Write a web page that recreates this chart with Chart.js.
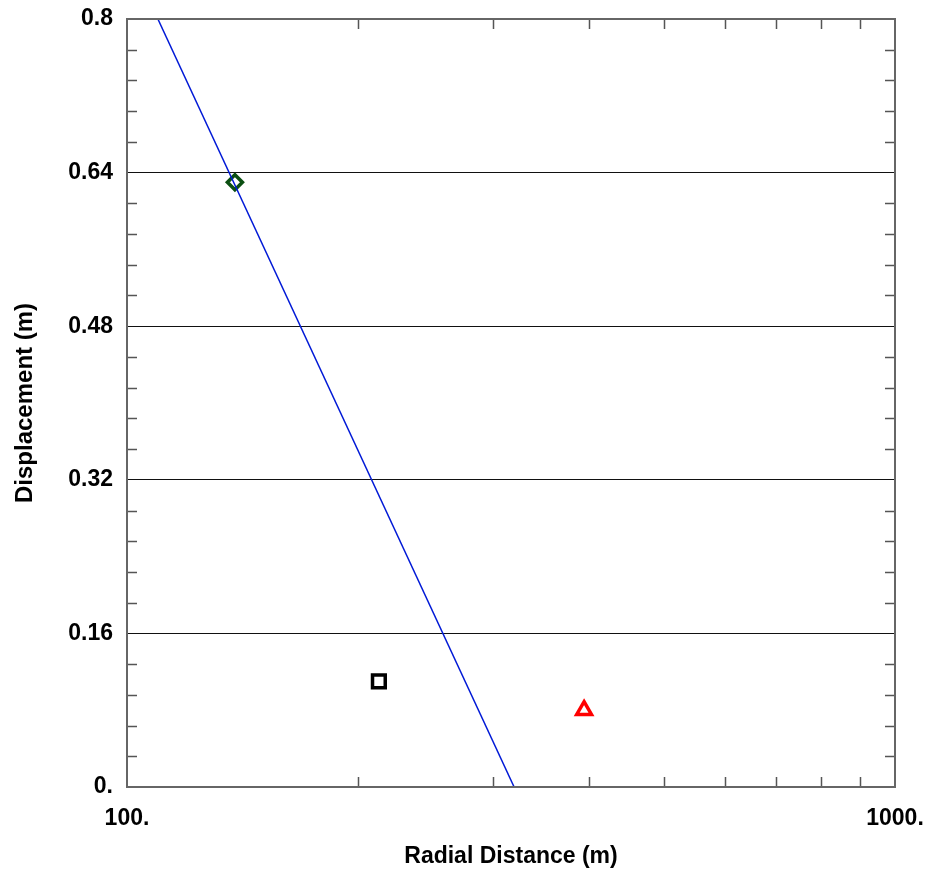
<!DOCTYPE html>
<html>
<head>
<meta charset="utf-8">
<script src="https://cdn.jsdelivr.net/npm/chart.js@4"></script>
<style>
  html, body { margin: 0; padding: 0; background: #fff; }
  #wrap { width: 929px; height: 870px; }
</style>
</head>
<body>
<div id="wrap"><canvas id="dispChart" width="929" height="870"></canvas></div>
<script>
// data
const lineX = [109.7, 319.2];
const lineY = [0.8, 0.0];
const diamondPt = [{ x: 138.2, y: 0.63 }];
const squarePt = [{ x: 212.8, y: 0.11 }];
const trianglePt = [{ x: 393.7, y: 0.08 }];

// ticks
const xTickValues = [100, 1000];
const xTickLabels = ['100.', '1000.'];
const xMinorTicks = [200, 300, 400, 500, 600, 700, 800, 900];
const yTickValues = [0, 0.16, 0.32, 0.48, 0.64, 0.8];
const yTickLabels = ['0.', '0.16', '0.32', '0.48', '0.64', '0.8'];
const yMinorTicks = [0.032, 0.064, 0.096, 0.128, 0.192, 0.224, 0.256, 0.288,
    0.352, 0.384, 0.416, 0.448, 0.512, 0.544, 0.576, 0.608,
    0.672, 0.704, 0.736, 0.768];

const FONT = 'Liberation Sans, Arial, Helvetica, sans-serif';

// inward minor ticks + frame
const frameTicks = {
    id: 'frameTicks',
    afterDatasetsDraw(chart) {
        const { ctx, chartArea: a, scales } = chart;
        const len = 10;
        ctx.save();
        ctx.strokeStyle = '#555';
        ctx.lineWidth = 1.5;
        ctx.beginPath();
        xMinorTicks.forEach(v => {
            const px = Math.round(scales.x.getPixelForValue(v)) + 0.5;
            ctx.moveTo(px, a.bottom); ctx.lineTo(px, a.bottom - len);
            ctx.moveTo(px, a.top); ctx.lineTo(px, a.top + len);
        });
        yMinorTicks.forEach(v => {
            const py = Math.round(scales.y.getPixelForValue(v)) + 0.5;
            ctx.moveTo(a.left, py); ctx.lineTo(a.left + len, py);
            ctx.moveTo(a.right, py); ctx.lineTo(a.right - len, py);
        });
        ctx.stroke();
        ctx.lineWidth = 2;
        ctx.strokeStyle = '#666';
        ctx.strokeRect(a.left, a.top, a.right - a.left, a.bottom - a.top);
        ctx.restore();
    }
};

const ctx = document.getElementById('dispChart');
new Chart(ctx, {
    type: 'scatter',
    data: {
        datasets: [
            {
                label: 'fit',
                type: 'line',
                data: lineX.map((x, i) => ({ x: x, y: lineY[i] })),
                borderColor: '#0019d6',
                borderWidth: 1.5,
                pointRadius: 0,
                fill: false,
                tension: 0
            },
            {
                label: 'diamond',
                data: diamondPt,
                pointStyle: 'rectRot',
                pointRadius: 7.5,
                pointBorderWidth: 3.5,
                borderColor: '#0b4f12',
                backgroundColor: 'rgba(0,0,0,0)'
            },
            {
                label: 'square',
                data: squarePt,
                pointStyle: 'rect',
                pointRadius: 9,
                pointBorderWidth: 3.5,
                borderColor: '#000',
                backgroundColor: 'rgba(0,0,0,0)'
            },
            {
                label: 'triangle',
                data: trianglePt,
                pointStyle: 'triangle',
                pointRadius: 8.5,
                pointBorderWidth: 3.5,
                borderColor: '#ff0000',
                backgroundColor: 'rgba(0,0,0,0)'
            }
        ]
    },
    options: {
        responsive: false,
        animation: false,
        layout: { padding: { left: 0, right: 34, top: 19, bottom: 0 } },
        plugins: {
            legend: { display: false },
            tooltip: { enabled: false }
        },
        scales: {
            x: {
                type: 'logarithmic',
                min: 100,
                max: 1000,
                afterBuildTicks: s => { s.ticks = xTickValues.map(v => ({ value: v })); },
                afterFit: s => { s.height = 83; s.paddingLeft = 0; s.paddingRight = 0; },
                grid: { display: false, drawTicks: false },
                border: { display: false },
                ticks: {
                    color: '#000',
                    padding: 18,
                    maxRotation: 0,
                    font: { family: FONT, size: 23, weight: 'bold' },
                    callback: (v) => xTickLabels[xTickValues.indexOf(v)]
                },
                title: {
                    display: true,
                    text: 'Radial Distance (m)',
                    color: '#000',
                    padding: { top: 0, bottom: 0 },
                    font: { family: FONT, size: 23, weight: 'bold' }
                }
            },
            y: {
                type: 'linear',
                min: 0,
                max: 0.8,
                afterBuildTicks: s => { s.ticks = yTickValues.map(v => ({ value: v })); },
                afterFit: s => { s.width = 127; s.paddingTop = 0; s.paddingBottom = 0; },
                grid: { color: '#111', lineWidth: 1, drawTicks: false },
                border: { display: false },
                ticks: {
                    color: '#000',
                    padding: 14,
                    font: { family: FONT, size: 23, weight: 'bold' },
                    callback: (v) => yTickLabels[yTickValues.indexOf(v)]
                },
                title: {
                    display: true,
                    text: 'Displacement (m)',
                    color: '#000',
                    padding: { top: 11, bottom: 0 },
                    font: { family: FONT, size: 24, weight: 'bold' }
                }
            }
        }
    },
    plugins: [frameTicks]
});
</script>
</body>
</html>
